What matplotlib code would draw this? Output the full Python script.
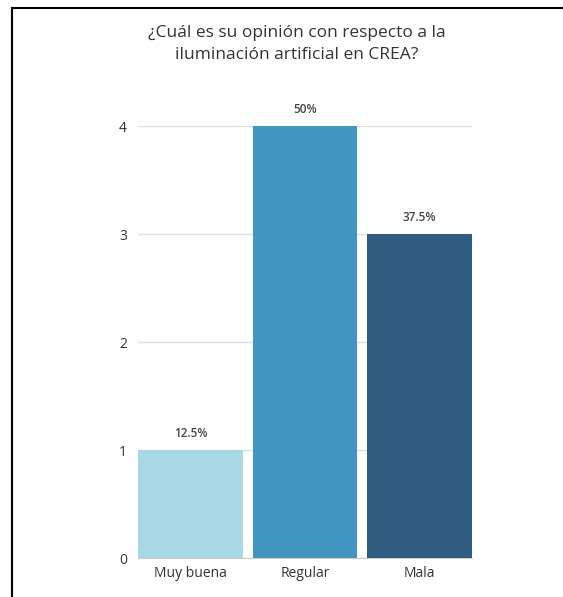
import numpy as np
import matplotlib.pyplot as plt
from matplotlib.lines import Line2D

plt.rcParams['font.family'] = ['Open Sans', 'DejaVu Sans']

categories = ['Muy buena', 'Regular', 'Mala']
counts = [1, 4, 3]
percent_labels = ['12.5%', '50%', '37.5%']
colors = ['#a8d8e6', '#4096c0', '#2f5b80']
title = '¿Cuál es su opinión con respecto a la\niluminación artificial en CREA?'

W, H = 563, 597
fig = plt.figure(figsize=(W / 100, H / 100), dpi=100)
ax = fig.add_axes([138 / W, 1 - 558 / H, (472 - 138) / W, (558 - 126) / H])

x = np.arange(len(categories))
bars = ax.bar(x, counts, width=0.915, color=colors, zorder=3)

for b, lab in zip(bars, percent_labels):
    ax.text(b.get_x() + b.get_width() / 2, b.get_height() + 0.09, lab,
            ha='center', va='bottom', fontsize=8.5, fontweight='semibold', color='#444444')

ax.set_xlim(-0.4575, 2.4575)
ax.set_ylim(0, 4)
ax.set_yticks([0, 1, 2, 3, 4])
ax.set_xticks(x)
ax.set_xticklabels(categories)
ax.grid(axis='y', color='#e0e0e0', linewidth=1, zorder=0)
ax.tick_params(axis='both', length=0, labelsize=10, colors='#333333')
ax.tick_params(axis='y', pad=8)
ax.tick_params(axis='x', pad=6)
for s in ['top', 'right', 'left']:
    ax.spines[s].set_visible(False)
ax.spines['bottom'].set_color('#cccccc')

fig.text(297 / W, 1 - 44 / H, title, ha='center', va='center', fontsize=12.5,
         color='#333333', linespacing=1.45)

# frame lines of the screenshot
fig.add_artist(Line2D([12 / W, 1], [1 - 8 / H, 1 - 8 / H], color='black', lw=1.5))
fig.add_artist(Line2D([12 / W, 12 / W], [0, 1 - 8 / H], color='black', lw=1.5))

fig.savefig('out.png', dpi=100)
